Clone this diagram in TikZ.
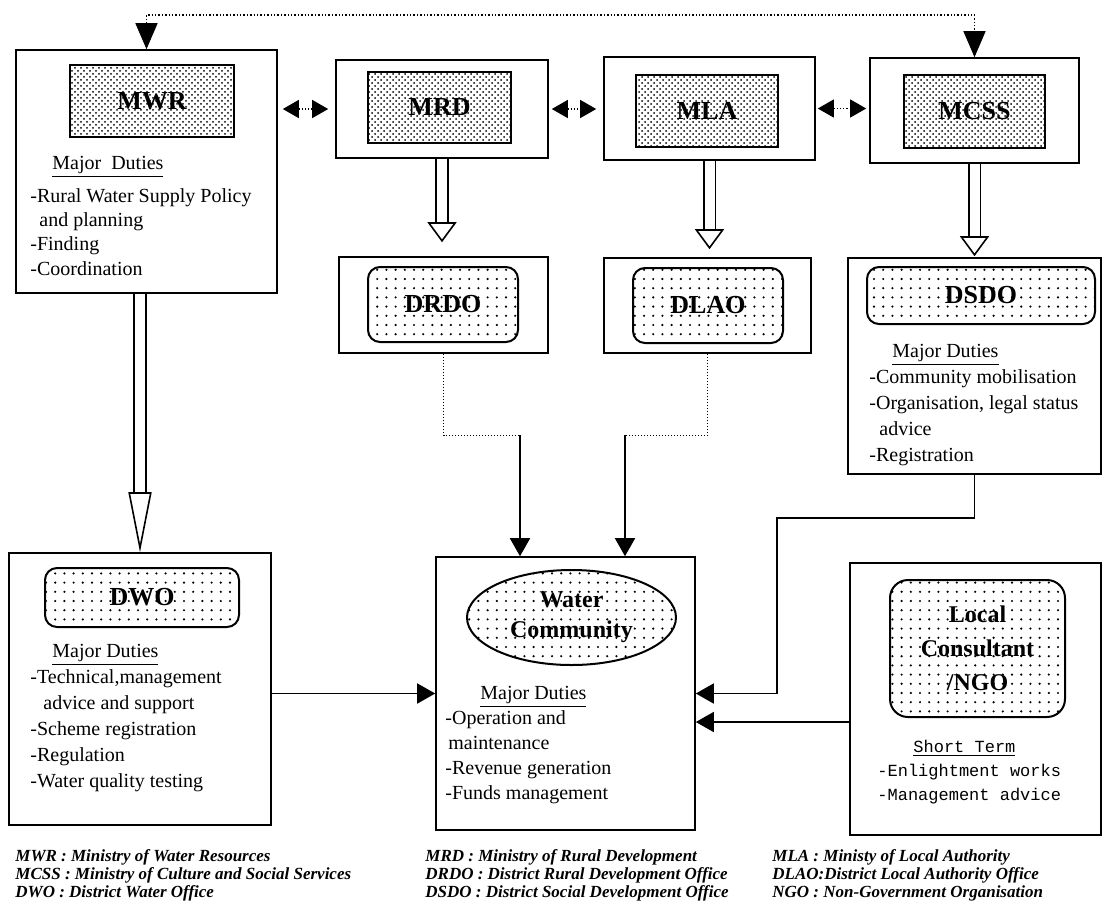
\documentclass[tikz,border=0pt]{standalone}
\usepackage{fontspec}
\setmainfont{Liberation Serif}
\newfontfamily\typewriter{Liberation Mono}
\usetikzlibrary{arrows.meta,patterns,patterns.meta,shapes.geometric}

\tikzdeclarepattern{
  name=sparsedots,
  type=uncolored,
  bottom left={(-1pt,-1pt)},
  top right={(1pt,1pt)},
  tile size={(4.6pt,4.6pt)},
  code={\fill (0pt,0pt) circle (0.6pt);}
}

\begin{document}
\begin{tikzpicture}[x=0.5pt,y=-0.5pt,
    box/.style={draw,line width=0.8pt,inner sep=0pt},
    ministry/.style={draw,line width=1.2pt,pattern=crosshatch dots,inner sep=0pt,font=\bfseries\fontsize{13}{15}\selectfont},
    office/.style={draw,line width=1pt,rounded corners=6pt,pattern=sparsedots,inner sep=0pt,align=center,font=\bfseries\fontsize{13}{15}\selectfont},
    duties/.style={anchor=north west,align=left,inner sep=0pt,font=\fontsize{10}{13}\selectfont},
    key/.style={anchor=north west,align=left,inner sep=0pt,font=\bfseries\itshape\fontsize{8.5}{9}\selectfont},
    link/.style={line width=0.8pt,-{Triangle[length=9pt,width=10pt]}},
    feed/.style={line width=0.5pt,densely dotted},
    hollow/.style={double,double distance=5pt,line width=0.8pt,-{Triangle[open,length=10pt,width=14.5pt]}},
    twoway/.style={densely dotted,line width=0.6pt,{Triangle[length=8pt,width=9pt]}-{Triangle[length=8pt,width=9pt]}},
    rail/.style={densely dotted,line width=0.7pt,{Triangle[length=13pt,width=11pt]}-{Triangle[length=13pt,width=11pt]}}]
\useasboundingbox (0,0) rectangle (1104,923);

% outer frames
\begin{scope}[every node/.style={box}]
    \node[minimum width=130.5pt,minimum height=121.5pt] (mwr) at (146.5,171.5) {};
    \node[minimum width=106pt,minimum height=49pt] (mrd) at (442,109) {};
    \node[minimum width=105.5pt,minimum height=51.5pt] (mla) at (709.5,108.5) {};
    \node[minimum width=104.5pt,minimum height=52.5pt] (mcss) at (974.5,110.5) {};
    \node[minimum width=104.5pt,minimum height=48pt] (drdo) at (443.5,305) {};
    \node[minimum width=103.5pt,minimum height=47.5pt] (dlao) at (707.5,305.5) {};
    \node[minimum width=126.5pt,minimum height=108pt] (dsdo) at (974.5,366) {};
    \node[minimum width=131pt,minimum height=136pt] (dwo) at (140,689) {};
    \node[minimum width=129.5pt,minimum height=136.5pt] (water) at (565.5,693.5) {};
    \node[minimum width=125.5pt,minimum height=136pt] (local) at (975.5,699) {};
\end{scope}

% name plates
\begin{scope}[every node/.style={ministry}]
    \node[minimum width=82pt,minimum height=36pt] (mwrname) at (152,101) {MWR};
    \node[minimum width=71.5pt,minimum height=35.5pt] (mrdname) at (439.5,107.5) {MRD};
    \node[minimum width=71pt,minimum height=36pt] (mlaname) at (707,111) {MLA};
    \node[minimum width=70.5pt,minimum height=36.5pt] (mcssname) at (974.5,111.5) {MCSS};
\end{scope}
\begin{scope}[every node/.style={office}]
    \node[minimum width=75pt,minimum height=37.5pt] (drdoname) at (443,304.5) {DRDO};
    \node[minimum width=75pt,minimum height=37.5pt] (dlaoname) at (708,305.5) {DLAO};
    \node[minimum width=114pt,minimum height=28.5pt] (dsdoname) at (981,295.5) {DSDO};
    \node[minimum width=97pt,minimum height=29.5pt] (dwoname) at (142,597.5) {DWO};
    \node[minimum width=87.5pt,minimum height=68.5pt,rounded corners=9pt,
          font=\bfseries\fontsize{12}{17}\selectfont] (localname) at (977.5,648.5) {Local\\Consultant\\/NGO};
\end{scope}
\node[ellipse,draw,line width=1pt,pattern=sparsedots,inner sep=0pt,align=center,
      minimum width=104.5pt,minimum height=47.5pt,font=\bfseries\fontsize{12}{15}\selectfont] (community) at (571.5,617.5) {Water\\Community};

% duties
\node[duties,font=\fontsize{10}{12.2}\selectfont] (mwrduties) at (30,156) {\hspace*{11pt}\underline{Major\ \ Duties}\\[4pt]
    -Rural Water Supply Policy\\ \hspace*{4.5pt}and planning\\ -Finding\\ -Coordination};
\node[duties] (dsdoduties) at (869,344) {\hspace*{11.5pt}\underline{Major Duties}\\
    -Community mobilisation\\ -Organisation, legal status\\ \hspace*{5pt}advice\\ -Registration};
\node[duties] (dwoduties) at (30,644) {\hspace*{11pt}\underline{Major Duties}\\
    -Technical,management\\ \hspace*{6.5pt}advice and support\\ -Scheme registration\\ -Regulation\\ -Water quality testing};
\node[duties,font=\fontsize{10}{12.5}\selectfont] (waterduties) at (445,686) {\hspace*{17.5pt}\underline{Major Duties}\\
    -Operation and\\ \hspace*{1.5pt}maintenance\\ -Revenue generation\\ -Funds management};
\node[duties,font=\typewriter\fontsize{8.5}{12}\selectfont] (localduties) at (877,740) {\hspace*{18pt}\underline{Short Term}\\
    -Enlightment works\\ -Management advice};

% abbreviations
\node[key] (keyone) at (15,849) {MWR : Ministry of Water Resources\\ MCSS : Ministry of Culture and Social Services\\ DWO : District Water Office};
\node[key] (keytwo) at (425,849) {MRD : Ministry of Rural Development\\ DRDO : District Rural Development Office\\ DSDO : District Social Development Office};
\node[key] (keythree) at (772,849) {MLA : Ministy of Local Authority\\ DLAO:District Local Authority Office\\ NGO : Non-Government Organisation};

% top line between MWR and MCSS
\coordinate (railmid) at (560,15);
\draw[rail] (mwr.north) |- (railmid) -| (mcss.north);

% links between ministries
\draw[twoway,shorten <=2.5pt,shorten >=3.5pt] (mrd.west -| mwr.east) -- (mrd.west);
\draw[twoway,shorten <=1.5pt,shorten >=3.5pt] (mrd.east) -- (mrd.east -| mla.west);
\draw[twoway,shorten <=1pt,shorten >=1.5pt] (mla.east) -- (mla.east -| mcss.west);

% ministry to district office
\draw[hollow,shorten >=7pt] (mrd.south) -- (mrd.south |- drdo.north);
\draw[hollow,shorten >=4pt] (mla.south) -- (mla.south |- dlao.north);
\draw[hollow,shorten >=0.5pt] (mcss.south) -- (mcss.south |- dsdo.north);
\draw[hollow,-{Triangle[open,length=30pt,width=11.5pt]}] (mwr.south -| dwo.north) -- (dwo.north);

% offices to the community
\coordinate (leftdrop) at (520,435);
\coordinate (rightdrop) at (625,435);
\coordinate (dsdoknee) at (777,518);
\coordinate (localport) at (850,722);
\draw[feed] (drdo.south) |- (leftdrop);
\draw[link] (leftdrop) -- (leftdrop |- water.north);
\draw[feed] (dlao.south) |- (rightdrop);
\draw[link] (rightdrop) -- (rightdrop |- water.north);
\draw[link] (dsdo.south) |- (dsdoknee) |- (water.east);
\draw[link] (localport) -- (water.east |- localport);
\draw[link] (dwo.east |- water.west) -- (water.west);
\end{tikzpicture}
\end{document}
